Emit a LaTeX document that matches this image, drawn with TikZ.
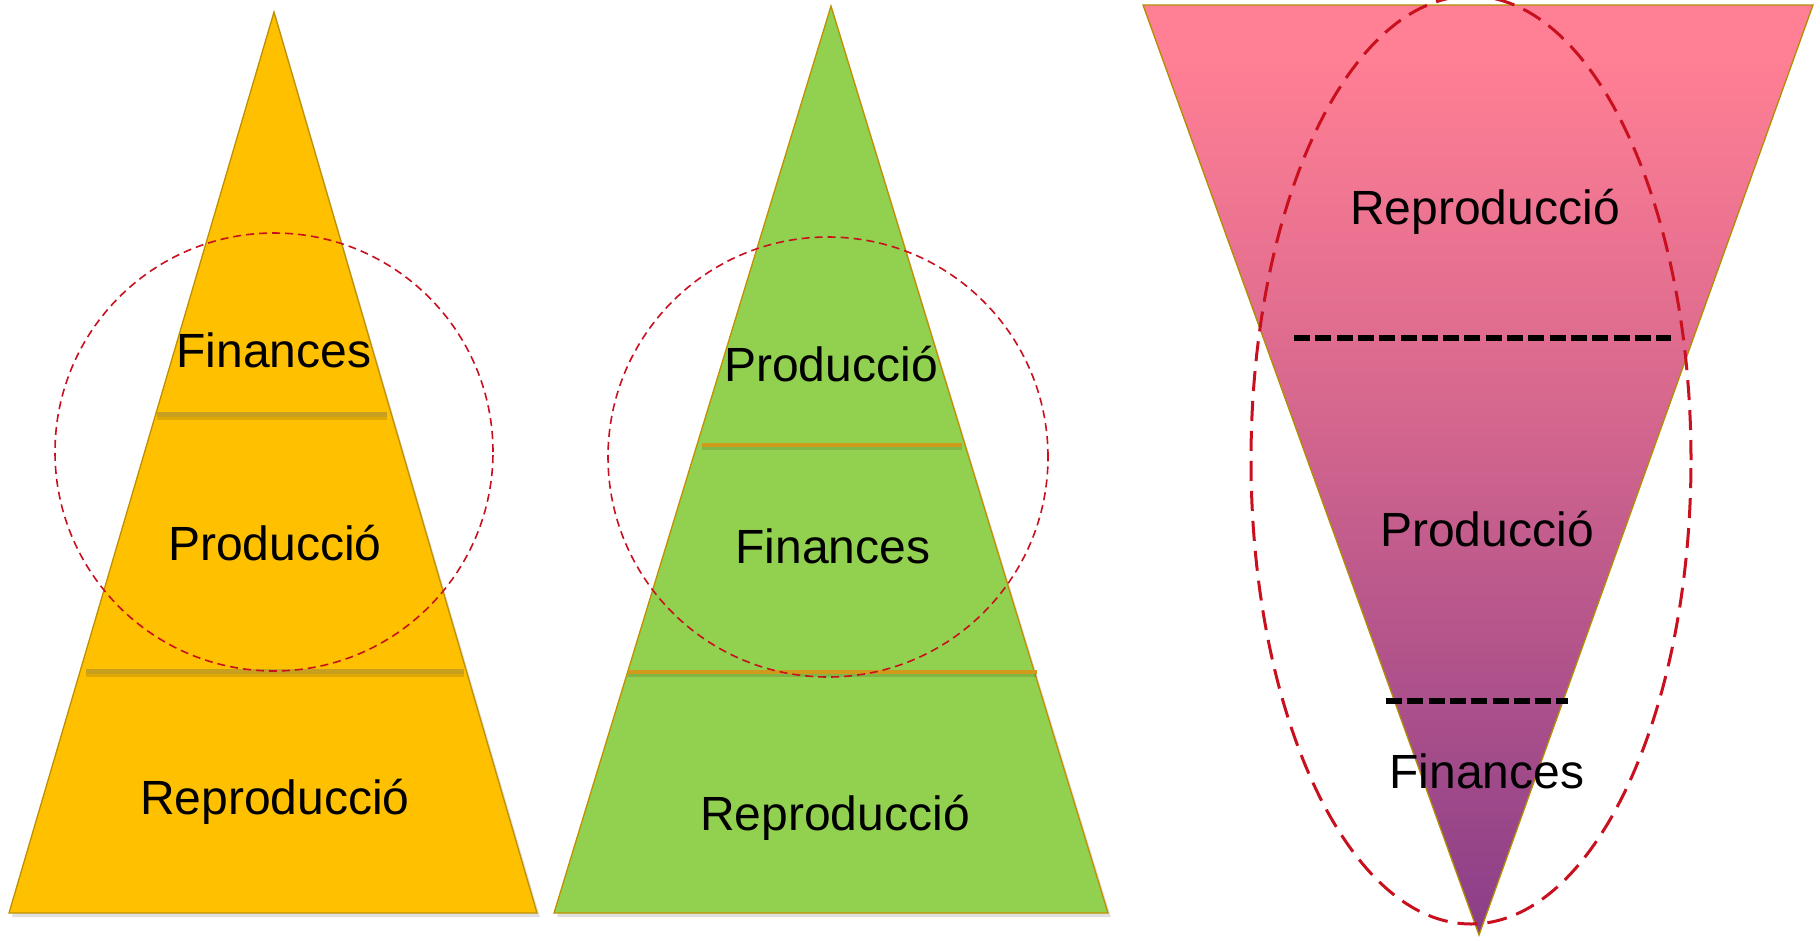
\documentclass[tikz,border=0pt]{standalone}
\usepackage{fontspec}
\setmainfont{Liberation Sans}
\usetikzlibrary{shapes.geometric}
\definecolor{yel}{HTML}{FFC000}
\definecolor{yelline}{HTML}{C8A020}
\definecolor{grn}{HTML}{92D050}
\definecolor{grnline}{HTML}{D09A1A}
\definecolor{outl}{HTML}{BF9000}
\definecolor{pinktop}{HTML}{FF7F94}
\definecolor{pinkmid}{HTML}{DF6C8F}
\definecolor{pinkbot}{HTML}{8A3E88}
\definecolor{reddash}{HTML}{C8101E}
\pgfdeclareverticalshading{pinkshade}{100bp}{color(0bp)=(pinkbot); color(25bp)=(pinkbot); color(57bp)=(pinkmid); color(72bp)=(pinktop); color(100bp)=(pinktop)}
\tikzset{
  tri/.style={draw=outl, line width=1.3pt, line join=miter},
  lbl/.style={font=\fontsize{48}{56}\selectfont, text=black, inner sep=0pt},
  sepyel/.style={draw=yelline, line width=5pt},
  sepgrn/.style={draw=grnline, line width=4pt},
  sepblk/.style={draw=black, line width=6pt, dash pattern=on 16pt off 5.3pt},
  thincirc/.style={draw=reddash, line width=1.6pt, dash pattern=on 8pt off 5pt},
  thickell/.style={draw=reddash, line width=3pt, dash pattern=on 20pt off 10pt},
  shadowline/.style={draw=black, opacity=0.12, line width=5pt}
}
\begin{document}
\begin{tikzpicture}[x=1pt,y=-1pt]
\useasboundingbox (0,0) rectangle (1820,940);
% ---------- triangle 1 (yellow)
\coordinate (a1) at (274,12);
\coordinate (b1) at (9,913);
\coordinate (c1) at (537,913);
\fill[black,opacity=0.12] (276,16) -- (12,917) -- (540,917) -- cycle;
\path[tri, fill=yel] (a1) -- (b1) -- (c1) -- cycle;
\coordinate (l1a) at (157,414); \coordinate (l1b) at (387,414);
\coordinate (l2a) at (86,671);  \coordinate (l2b) at (464,671);
\draw[shadowline] ([yshift=-3pt]l1a) -- ([yshift=-3pt]l1b);
\draw[shadowline] ([yshift=-3pt]l2a) -- ([yshift=-3pt]l2b);
\draw[sepyel] (l1a) -- (l1b);
\draw[sepyel] (l2a) -- (l2b);
\node[lbl] (f1) at (274,350) {Finances};
\node[lbl] (p1) at (275,543) {Producció};
\node[lbl] (r1) at (275,802) {Reproducció};
\node[thincirc, circle, minimum size=438pt, inner sep=0pt] (c1circ) at (274,452) {};
% ---------- triangle 2 (green)
\coordinate (a2) at (831,6);
\coordinate (b2) at (554,913);
\coordinate (c2) at (1108,913);
\fill[black,opacity=0.12] (833,10) -- (557,917) -- (1111,917) -- cycle;
\path[tri, fill=grn] (a2) -- (b2) -- (c2) -- cycle;
\coordinate (m1a) at (702,445); \coordinate (m1b) at (962,445);
\coordinate (m2a) at (628,672); \coordinate (m2b) at (1037,672);
\draw[shadowline,line width=4pt] ([yshift=-3pt]m1a) -- ([yshift=-3pt]m1b);
\draw[shadowline,line width=4pt] ([yshift=-3pt]m2a) -- ([yshift=-3pt]m2b);
\draw[sepgrn] (m1a) -- (m1b);
\draw[sepgrn] (m2a) -- (m2b);
\node[lbl] (p2) at (831,364) {Producció};
\node[lbl] (f2) at (833,546) {Finances};
\node[lbl] (r2) at (835,818) {Reproducció};
\node[thincirc, circle, minimum size=440pt, inner sep=0pt] (c2circ) at (828,457) {};
% ---------- triangle 3 (inverted, gradient)
\coordinate (a3) at (1143,5);
\coordinate (b3) at (1813,5);
\coordinate (c3) at (1479,935);
\shade[shading=pinkshade] (a3) -- (b3) -- (c3) -- cycle;
\draw[draw=outl!80!olive, line width=1.3pt] (a3) -- (b3) -- (c3) -- cycle;
\coordinate (n1a) at (1294,338); \coordinate (n1b) at (1671,338);
\coordinate (n2a) at (1386,701); \coordinate (n2b) at (1568,701);
\draw[sepblk] (n1a) -- (n1b);
\draw[sepblk] (n2a) -- (n2b);
\node[lbl] (r3) at (1485,212) {Reproducció};
\node[lbl] (p3) at (1487,529) {Producció};
\node[lbl] (f3) at (1487,771) {Finances};
\node[thickell, ellipse, minimum width=440pt, minimum height=928pt, inner sep=0pt] (e3) at (1471,460) {};
\end{tikzpicture}
\end{document}
